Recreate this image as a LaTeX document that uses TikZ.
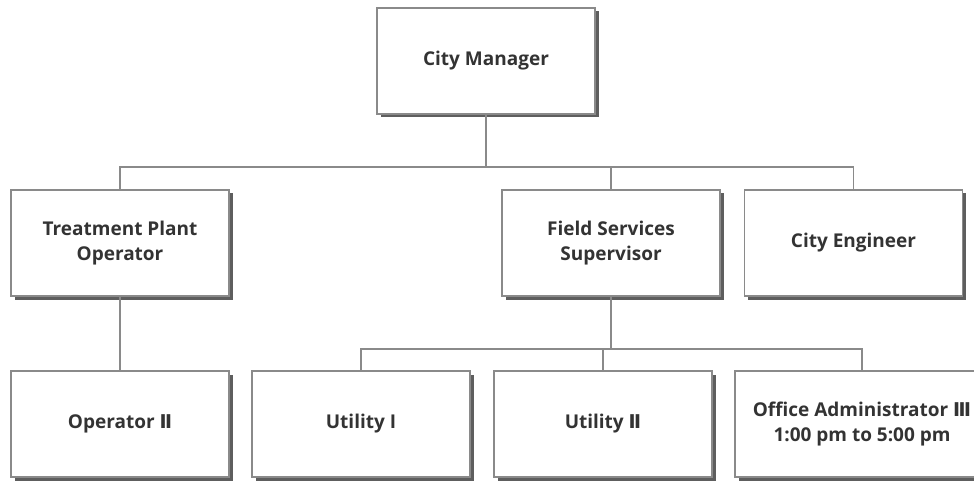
\documentclass[tikz,border=0pt]{standalone}
\usepackage{fontspec}
\setmainfont{Open Sans}
\newfontfamily\romanfont{DejaVu Sans}
\usetikzlibrary{shadows}

\definecolor{boxline}{HTML}{8A8A8A}
\definecolor{boxshade}{HTML}{5E5E5E}
\definecolor{boxtext}{HTML}{333333}

% roman numeral glyphs
\newcommand{\rtwo}{{\romanfont Ⅱ}}
\newcommand{\rthree}{{\romanfont Ⅲ}}

\begin{document}
\begin{tikzpicture}[x=1pt,y=-1pt,
  post/.style={draw=boxline, line width=1.3pt, fill=white,
    minimum width=218pt, minimum height=106pt, inner sep=0pt,
    align=center, text=boxtext, font=\fontsize{19}{25}\selectfont\bfseries,
    drop shadow={shadow xshift=3.5pt, shadow yshift=-3.5pt, fill=boxshade, opacity=1}},
  link/.style={draw=boxline, line width=1.3pt}]
\useasboundingbox (0,0) rectangle (974,481);
\clip (0,0) rectangle (974,481);
%
\node[post] (cm)  at (486,61)  {City Manager};
%
\node[post] (tpo) at (120,243) {Treatment Plant\\Operator};
\node[post] (fss) at (611,243) {Field Services\\Supervisor};
\node[post] (ce)  at (853.5,243) {City Engineer};
%
\node[post] (op2) at (120,424) {Operator \rtwo};
\node[post] (ut1) at (361,424) {Utility I};
\node[post] (ut2) at (603,424) {Utility \rtwo};
\node[post, minimum width=254pt] (oa3) at (862,424) {Office Administrator \rthree\\1:00 pm to 5:00 pm};
%
\coordinate (bus1) at (0,167);
\coordinate (bus2) at (0,349);
%
\draw[link] (cm.south) -- (cm.south |- bus1);
\draw[link] (tpo.north) -- (tpo.north |- bus1) -- (ce.north |- bus1) -- (ce.north);
\draw[link] (fss.north) -- (fss.north |- bus1);
%
\draw[link] (tpo.south) -- (op2.north);
%
\draw[link] (fss.south) -- (fss.south |- bus2);
\draw[link] (ut1.north) -- (ut1.north |- bus2) -- (oa3.north |- bus2) -- (oa3.north);
\draw[link] (ut2.north) -- (ut2.north |- bus2);
\end{tikzpicture}
\end{document}
